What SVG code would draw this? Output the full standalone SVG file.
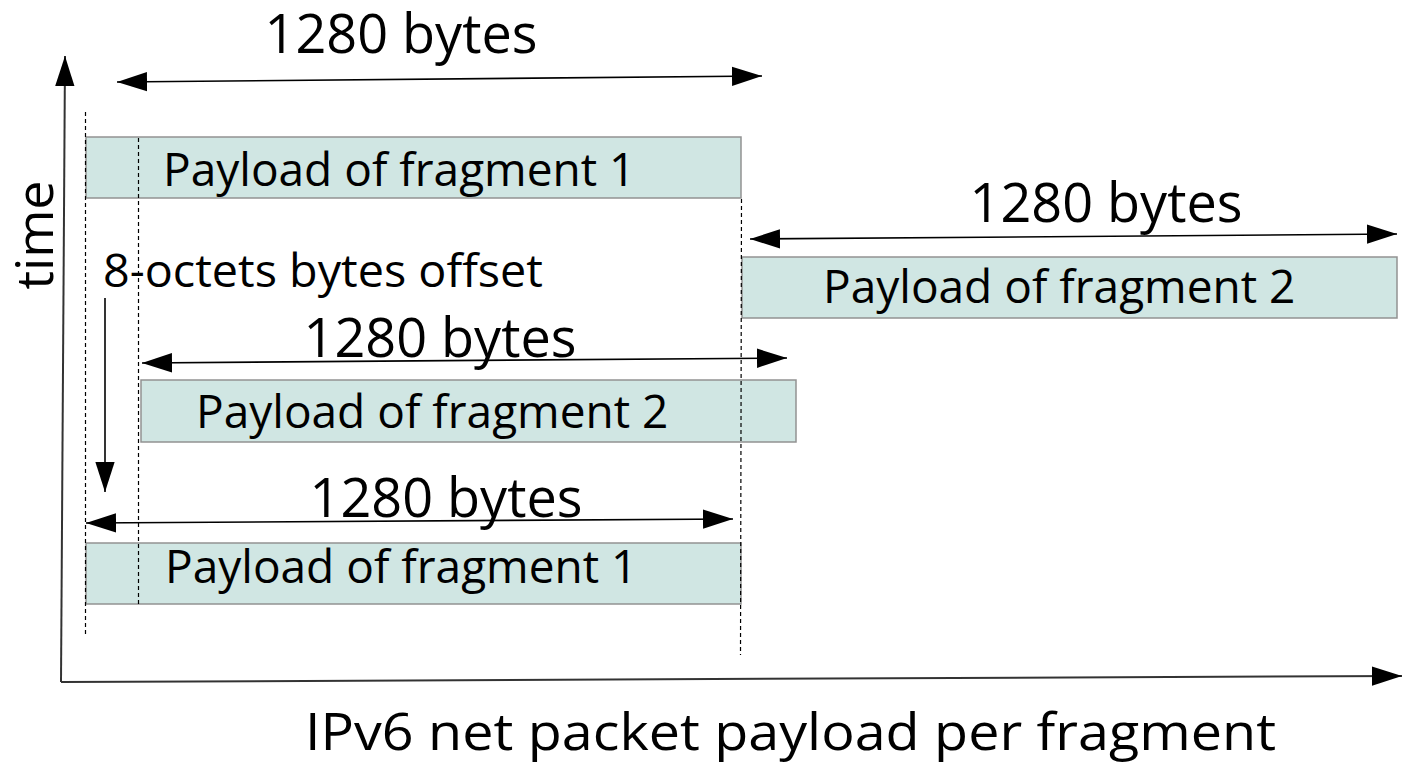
<svg xmlns="http://www.w3.org/2000/svg" width="1402" height="766" viewBox="0 0 1402 766">
<style>
text{font-family:"Open Sans","Liberation Sans",sans-serif;fill:#000}
.big{font-size:54px}
.pl{font-size:46px}
.box{fill:#d0e6e3;stroke:#929292;stroke-width:1.5}
.arr{stroke:#000;stroke-width:1.6;fill:none}
.ax{stroke:#333;stroke-width:2;fill:none}
.dash{stroke:#000;stroke-width:1.2;stroke-dasharray:4 3;fill:none}
</style>
<defs>
<marker id="ah" markerUnits="userSpaceOnUse" markerWidth="30" markerHeight="20" viewBox="0 0 28 18" refX="28" refY="9" orient="auto-start-reverse">
<path d="M0,0 L28,9 L0,18 Z" fill="#000"/>
</marker>
</defs>
<g id="axes">
<line class="ax" x1="61" y1="682" x2="65" y2="56" marker-end="url(#ah)"/>
<line class="ax" x1="61" y1="682" x2="1402" y2="676" marker-end="url(#ah)"/>
<text font-size="52" text-anchor="middle" transform="translate(53,235) rotate(-90)">time</text>
<text font-size="52" x="305" y="750" textLength="971" lengthAdjust="spacingAndGlyphs">IPv6 net packet payload per fragment</text>
</g>
<g id="frag1-top">
<rect class="box" x="86" y="137" width="655" height="61"/>
<text class="pl" x="163" y="186">Payload of fragment 1</text>
</g>
<g id="frag2-right">
<rect class="box" x="742" y="257" width="655" height="61"/>
<text class="pl" x="823" y="303">Payload of fragment 2</text>
</g>
<g id="frag2-mid">
<rect class="box" x="141" y="380" width="655" height="62"/>
<text class="pl" x="196" y="428">Payload of fragment 2</text>
</g>
<g id="frag1-bottom">
<rect class="box" x="86" y="543" width="655" height="61"/>
<text class="pl" x="165" y="583">Payload of fragment 1</text>
</g>
<g id="labels">
<text class="big" x="401" y="53" text-anchor="middle">1280 bytes</text>
<text class="big" x="1106" y="222" text-anchor="middle">1280 bytes</text>
<text class="big" x="440" y="357" text-anchor="middle">1280 bytes</text>
<text class="big" x="446" y="517" text-anchor="middle">1280 bytes</text>
<text class="pl" x="103" y="287" textLength="440" lengthAdjust="spacingAndGlyphs">8-octets bytes offset</text>
</g>
<g id="connectors">
<line class="arr" x1="117" y1="82" x2="762" y2="76" marker-start="url(#ah)" marker-end="url(#ah)"/>
<line class="arr" x1="750" y1="239" x2="1397" y2="234" marker-start="url(#ah)" marker-end="url(#ah)"/>
<line class="arr" x1="142" y1="363" x2="787" y2="358" marker-start="url(#ah)" marker-end="url(#ah)"/>
<line class="arr" x1="86" y1="523" x2="733" y2="519" marker-start="url(#ah)" marker-end="url(#ah)"/>
<line class="arr" x1="105" y1="298" x2="105" y2="492" marker-end="url(#ah)"/>
<line class="dash" x1="85.5" y1="112" x2="85.5" y2="637"/>
<line class="dash" x1="138.5" y1="138" x2="138.5" y2="605"/>
<line class="dash" x1="741.5" y1="199" x2="740.5" y2="655"/>
</g>
</svg>
